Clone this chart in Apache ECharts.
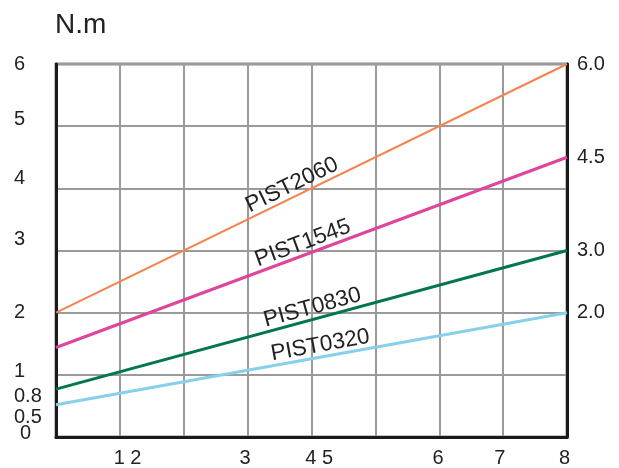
<!DOCTYPE html>
<html><head><meta charset="utf-8">
<script src="https://cdn.jsdelivr.net/npm/echarts@6/dist/echarts.min.js"></script>
<style>html,body{margin:0;padding:0;background:#fff}#c{width:619px;height:468px}</style>
</head><body><div id="c"></div>
<script>
// Data
const xRange = [0, 8];
const seriesNames = ['PIST2060', 'PIST1545', 'PIST0830', 'PIST0320'];
const PIST2060 = [2.0, 6.0];
const PIST1545 = [1.44, 4.5];
const PIST0830 = [0.77, 3.0];
const PIST0320 = [0.52, 2.0];
const xTickLabels = ['1 2', '3', '4 5', '6', '7', '8'];
const xTickValues = [1.12, 2.96, 4.12, 5.98, 6.95, 7.96];
const yLeftLabels = ['0.5', '0.8', '1', '2', '3', '4', '5', '6'];
const yLeftValues = [0.31, 0.65, 1.05, 2.0, 3.17, 4.16, 5.11, 6.0];
const yZeroLabels = ['0'];
const yZeroValues = [0.06];
const yRightLabels = ['2.0', '3.0', '4.5', '6.0'];
const yRightValues = [2.0, 3.0, 4.5, 6.0];

const colors = ['#F5834F', '#DE459B', '#00774A', '#86D0EC'];
const widths = [2, 3, 3, 3];
// shift of each curve label along its line (styling only)
const labelPad = [[0, 32, 0, 0], [0, 10, 0, 0], [0, 0, 0, 8], [0, 0, 0, 22]];
const FONT = 'Liberation Sans, Arial, Helvetica, sans-serif';

function lookup(vals, labels, v) {
  let best = 0, d = Infinity;
  vals.forEach((x, i) => { const dd = Math.abs(x - v); if (dd < d) { d = dd; best = i; } });
  return labels[best];
}

const all = [PIST2060, PIST1545, PIST0830, PIST0320];
const series = all.map((arr, i) => ({
  name: seriesNames[i],
  type: 'line',
  data: [[xRange[0], arr[0]], [xRange[1], arr[1]]],
  symbol: 'none',
  lineStyle: { color: colors[i], width: widths[i] },
  z: 5,
  markLine: {
    silent: true,
    symbol: 'none',
    lineStyle: { color: 'rgba(0,0,0,0)', width: 1, opacity: 1, type: 'solid' },
    label: {
      show: true, position: 'middle', formatter: seriesNames[i], opacity: 1,
      color: '#222', fontSize: 22.5, fontFamily: FONT, distance: 0,
      padding: labelPad[i]
    },
    data: [[{ coord: [xRange[0], arr[0]] }, { coord: [xRange[1], arr[1]] }]]
  }
}));

const baseY = {
  type: 'value', min: 0, max: 6, interval: 1,
  axisTick: { show: false }
};

const chart = echarts.init(document.getElementById('c'));
chart.setOption({
  animation: false,
  backgroundColor: '#fff',
  title: { text: 'N.m', left: 55, top: 11, padding: 0, textStyle: { fontSize: 28, fontWeight: 'normal', color: '#222', fontFamily: FONT } },
  grid: { left: 56, right: 52, top: 64, bottom: 28, show: true, borderColor: '#1a1a1a', borderWidth: 2.5, containLabel: false },
  xAxis: {
    type: 'value', min: 0, max: 8, interval: 1,
    axisLine: { show: true, lineStyle: { color: '#1a1a1a', width: 3 } },
    axisTick: { show: false },
    splitLine: { show: true, lineStyle: { color: '#9a9a9a', width: 2 } },
    axisLabel: {
      customValues: xTickValues, showMinLabel: true, showMaxLabel: true,
      formatter: v => lookup(xTickValues, xTickLabels, v),
      color: '#222', fontSize: 20, fontFamily: FONT, margin: 11
    }
  },
  yAxis: [Object.assign({}, baseY, {
    position: 'left',
    axisLine: { show: true, lineStyle: { color: '#1a1a1a', width: 3 } },
    splitLine: { show: true, lineStyle: { color: '#9a9a9a', width: 2 } },
    axisLabel: {
      customValues: yLeftValues, showMinLabel: true, showMaxLabel: true,
      formatter: v => lookup(yLeftValues, yLeftLabels, v),
      color: '#222', fontSize: 20, fontFamily: FONT, margin: 42, align: 'left'
    }
  }), Object.assign({}, baseY, {
    position: 'right',
    axisLine: { show: true, lineStyle: { color: '#1a1a1a', width: 3 } },
    splitLine: { show: false },
    axisLabel: {
      customValues: yRightValues, showMinLabel: true, showMaxLabel: true,
      formatter: v => lookup(yRightValues, yRightLabels, v),
      color: '#222', fontSize: 20, fontFamily: FONT, margin: 10
    }
  }), Object.assign({}, baseY, {
    position: 'left', offset: 0,
    axisLine: { show: false },
    splitLine: { show: false },
    axisLabel: {
      customValues: yZeroValues, showMinLabel: true, showMaxLabel: true,
      formatter: v => lookup(yZeroValues, yZeroLabels, v),
      color: '#222', fontSize: 20, fontFamily: FONT, margin: 36, align: 'left'
    }
  })],
  series: series
});
</script>
</body></html>
